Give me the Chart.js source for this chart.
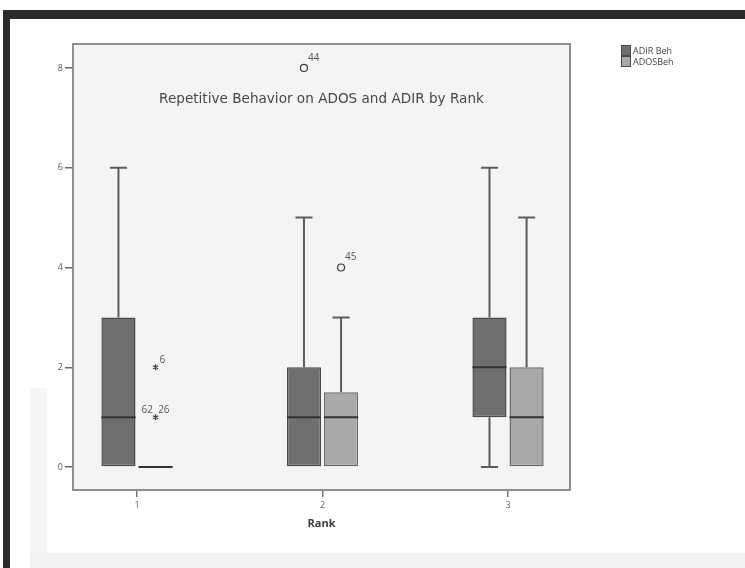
<!DOCTYPE html>
<html>
<head>
<meta charset="utf-8">
<title>Repetitive Behavior on ADOS and ADIR by Rank</title>
<script src="https://cdn.jsdelivr.net/npm/chart.js@4.4.0/dist/chart.umd.min.js"></script>
<style>
  html, body { margin: 0; padding: 0; background: #fff; }
  #page { position: relative; width: 745px; height: 568px; overflow: hidden; background: #fff; }
  .frame-top { position: absolute; left: 3px; top: 10px; width: 742px; height: 9px; background: #2b2b2b; }
  .frame-left { position: absolute; left: 3px; top: 10px; width: 7px; height: 558px; background: #2b2b2b; }
  .scan-strip { position: absolute; left: 30px; top: 388px; width: 17px; height: 165px; background: #f4f5f5; }
  .scan-band { position: absolute; left: 30px; top: 553px; width: 715px; height: 15px; background: #f1f2f2; }
  #wrap { position: absolute; left: 0; top: 0; width: 745px; height: 568px; }
</style>
</head>
<body>
<div id="page">
  <div class="frame-top"></div>
  <div class="frame-left"></div>
  <div class="scan-strip"></div>
  <div class="scan-band"></div>
  <div id="wrap"><canvas id="boxChart" width="745" height="568"></canvas></div>
</div>
<script>
const rankLabels = ['1', '2', '3']
const rankPositions = [1, 2, 3]
const yTickValues = [0, 2, 4, 6, 8]

// five-number summaries per rank
const adirMin = [0, 0, 0]
const adirQ1 = [0, 0, 1]
const adirMedian = [1, 1, 2]
const adirQ3 = [3, 2, 3]
const adirMax = [6, 5, 6]

const adosMin = [0, 0, 0]
const adosQ1 = [0, 0, 0]
const adosMedian = [0, 1, 1]
const adosQ3 = [0, 1.5, 2]
const adosMax = [0, 3, 5]

// outliers: value, case ids, 'o' = outlier, '*' = extreme
const adirOutliers = [[], [{ v: 8, ids: ['44'], kind: 'o' }], []]
const adosOutliers = [
  [{ v: 2, ids: ['6'], kind: '*' }, { v: 1, ids: ['62', '26'], kind: '*' }],
  [{ v: 4, ids: ['45'], kind: 'o' }],
  []
]

const chartTitle = 'Repetitive Behavior on ADOS and ADIR by Rank'

function boxData(q1, q3) {
  return rankPositions.map((x, i) => ({ x: x, y: [q1[i], q3[i]] }))
}

const boxPlugin = {
  id: 'boxplot',
  beforeDatasetsDraw(chart) {
    const { ctx, chartArea: a, scales: { y } } = chart
    ctx.save()
    ctx.fillStyle = '#f3f4f5'
    ctx.fillRect(a.left, a.top, a.width, a.height)
    ctx.strokeStyle = '#8e8e8e'
    ctx.lineWidth = 2
    ctx.strokeRect(a.left, a.top, a.width, a.height)

    // whiskers
    chart.data.datasets.forEach((ds, di) => {
      const meta = chart.getDatasetMeta(di)
      meta.data.forEach((bar, i) => {
        const cx = bar.x
        const cap = bar.width / 4
        const st = ds.stats
        ctx.strokeStyle = '#5c5c5c'
        ctx.lineWidth = 2
        const segs = [[st.q3[i], st.max[i]], [st.q1[i], st.min[i]]]
        segs.forEach(([from, to]) => {
          if (from === to) return
          const y1 = y.getPixelForValue(from)
          const y2 = y.getPixelForValue(to)
          ctx.beginPath()
          ctx.moveTo(cx, y1)
          ctx.lineTo(cx, y2)
          ctx.moveTo(cx - cap, y2)
          ctx.lineTo(cx + cap, y2)
          ctx.stroke()
        })
      })
    })
    ctx.restore()
  },
  afterDatasetsDraw(chart) {
    const { ctx, scales: { y } } = chart
    ctx.save()
    chart.data.datasets.forEach((ds, di) => {
      const meta = chart.getDatasetMeta(di)
      const st = ds.stats
      meta.data.forEach((bar, i) => {
        const cx = bar.x
        const half = bar.width / 2
        // median
        const my = y.getPixelForValue(st.median[i])
        ctx.strokeStyle = '#333'
        ctx.lineWidth = 2
        ctx.beginPath()
        ctx.moveTo(cx - half, my)
        ctx.lineTo(cx + half, my)
        ctx.stroke()

        // outliers
        st.outliers[i].forEach((o) => {
          const py = y.getPixelForValue(o.v)
          ctx.strokeStyle = '#3a3a3a'
          ctx.lineWidth = 1.2
          if (o.kind === 'o') {
            ctx.beginPath()
            ctx.arc(cx, py, 3.5, 0, Math.PI * 2)
            ctx.fillStyle = '#f3f4f5'
            ctx.fill()
            ctx.stroke()
          } else {
            ctx.beginPath()
            for (let k = 0; k < 3; k++) {
              const ang = (Math.PI / 3) * k + Math.PI / 2
              ctx.moveTo(cx - Math.cos(ang) * 3, py - Math.sin(ang) * 3)
              ctx.lineTo(cx + Math.cos(ang) * 3, py + Math.sin(ang) * 3)
            }
            ctx.stroke()
          }
          ctx.fillStyle = '#555'
          ctx.font = '10px "Open Sans", sans-serif'
          ctx.textBaseline = 'middle'
          if (o.ids.length > 1) {
            ctx.textAlign = 'center'
            ctx.fillText(o.ids.join('  '), cx, py - 7)
          } else {
            ctx.textAlign = 'left'
            ctx.fillText(o.ids[0], cx + 4, py - (o.kind === 'o' ? 10 : 7))
          }
        })
      })
    })
    ctx.restore()
  },
  afterDraw(chart) {
    const { ctx, chartArea: a } = chart
    ctx.save()
    // title inside the plot frame
    ctx.fillStyle = '#474747'
    ctx.font = '13.6px "DejaVu Sans", sans-serif'
    ctx.textAlign = 'center'
    ctx.textBaseline = 'middle'
    ctx.fillText(chartTitle, (a.left + a.right) / 2, a.top + 55)

    // legend
    const lx = a.right + 51
    let ly = a.top + 1
    ctx.font = '9px "Open Sans", sans-serif'
    ctx.textAlign = 'left'
    chart.data.datasets.forEach((ds) => {
      ctx.fillStyle = ds.backgroundColor
      ctx.fillRect(lx, ly, 10, 11)
      ctx.strokeStyle = '#4a4a4a'
      ctx.lineWidth = 1
      ctx.strokeRect(lx + 0.5, ly + 0.5, 9, 10)
      ctx.fillStyle = '#444'
      ctx.fillText(ds.label, lx + 12, ly + 6)
      ly += 11
    })
    ctx.restore()
  }
}

const ctx = document.getElementById('boxChart').getContext('2d')

new Chart(ctx, {
  type: 'bar',
  data: {
    datasets: [{
      label: 'ADIR Beh',
      data: boxData(adirQ1, adirQ3),
      backgroundColor: '#6e6e6e',
      borderColor: '#4a4a4a',
      borderWidth: 1.5,
      borderSkipped: false,
      stats: { min: adirMin, q1: adirQ1, median: adirMedian, q3: adirQ3, max: adirMax, outliers: adirOutliers }
    }, {
      label: 'ADOSBeh',
      data: boxData(adosQ1, adosQ3),
      backgroundColor: '#a9a9a9',
      borderColor: '#6a6a6a',
      borderWidth: 1.5,
      borderSkipped: false,
      stats: { min: adosMin, q1: adosQ1, median: adosMedian, q3: adosQ3, max: adosMax, outliers: adosOutliers }
    }]
  },
  options: {
    responsive: false,
    animation: false,
    categoryPercentage: 0.4,
    barPercentage: 0.92,
    layout: {
      padding: { left: 33, right: 175, top: 44, bottom: 34 }
    },
    plugins: {
      legend: { display: false },
      title: { display: false },
      tooltip: { enabled: false }
    },
    scales: {
      x: {
        type: 'linear',
        min: 0.655,
        max: 3.334,
        offset: false,
        afterBuildTicks: (axis) => {
          axis.ticks = rankPositions.map((v) => ({ value: v }))
        },
        afterFit: (axis) => { axis.height = 44 },
        ticks: {
          color: '#666',
          font: { family: 'Open Sans', size: 9 },
          padding: 3,
          callback: (value) => rankLabels[rankPositions.indexOf(value)]
        },
        grid: {
          display: true,
          offset: false,
          drawOnChartArea: false,
          drawTicks: true,
          tickLength: 7,
          color: '#777',
          lineWidth: 1.5
        },
        border: { display: false },
        title: {
          display: true,
          text: 'Rank',
          color: '#3a3a3a',
          font: { family: 'Open Sans', size: 11, weight: 'bold' }
        }
      },
      y: {
        min: -0.46,
        max: 8.48,
        afterBuildTicks: (axis) => {
          axis.ticks = yTickValues.map((v) => ({ value: v }))
        },
        afterFit: (axis) => { axis.width = 40 },
        ticks: {
          color: '#555',
          font: { family: 'Open Sans', size: 9 },
          padding: 2
        },
        grid: {
          display: true,
          drawOnChartArea: false,
          drawTicks: true,
          tickLength: 8,
          color: '#666',
          lineWidth: 1.5
        },
        border: { display: false }
      }
    }
  },
  plugins: [boxPlugin]
})
</script>
</body>
</html>
